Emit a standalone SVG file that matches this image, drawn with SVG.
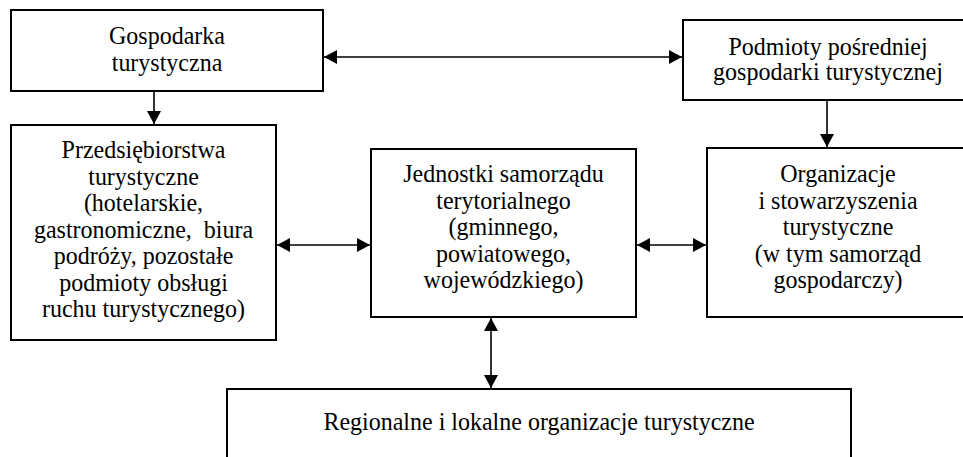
<svg xmlns="http://www.w3.org/2000/svg" width="963" height="457" viewBox="0 0 963 457">
<style>
.box{fill:#fff;stroke:#000;stroke-width:2}
.t{font-family:"Liberation Serif","Times New Roman",serif;font-size:24px;fill:#000;text-anchor:middle}
.c{stroke:#000;stroke-width:1.6;fill:none}
</style>
<defs>
<marker id="ah" markerUnits="userSpaceOnUse" markerWidth="15" markerHeight="15" refX="13" refY="7" orient="auto-start-reverse">
<path d="M0,0 L13,7 L0,14 z" fill="#000"/>
</marker>
</defs>
<rect width="963" height="457" fill="#fff"/>
<g id="connectors">
<line class="c" x1="324" y1="57" x2="682" y2="57" marker-start="url(#ah)" marker-end="url(#ah)"/>
<line class="c" x1="154" y1="91" x2="154" y2="124" marker-end="url(#ah)"/>
<line class="c" x1="827" y1="100" x2="827" y2="147" marker-end="url(#ah)"/>
<line class="c" x1="277" y1="245" x2="370" y2="245" marker-start="url(#ah)" marker-end="url(#ah)"/>
<line class="c" x1="637" y1="245" x2="706" y2="245" marker-start="url(#ah)" marker-end="url(#ah)"/>
<line class="c" x1="491" y1="318" x2="491" y2="388" marker-start="url(#ah)" marker-end="url(#ah)"/>
</g>
<g id="gospodarka">
<rect class="box" x="11" y="10" width="312" height="81"/>
<text class="t" transform="translate(167 44) scale(1 1.05)">Gospodarka</text>
<text class="t" transform="translate(167 71) scale(1 1.05)">turystyczna</text>
</g>
<g id="podmioty">
<rect class="box" x="683" y="20" width="292" height="80"/>
<text class="t" transform="translate(828 55) scale(1 1.05)">Podmioty pośredniej</text>
<text class="t" transform="translate(828 80) scale(1 1.05)">gospodarki turystycznej</text>
</g>
<g id="przedsiebiorstwa">
<rect class="box" x="11" y="125" width="265" height="215"/>
<text class="t" transform="translate(143.5 158) scale(1 1.05)">Przedsiębiorstwa</text>
<text class="t" transform="translate(143.5 184.5) scale(1 1.05)">turystyczne</text>
<text class="t" transform="translate(143.5 211) scale(1 1.05)">(hotelarskie,</text>
<text class="t" transform="translate(143.5 237.5) scale(1 1.05)" xml:space="preserve">gastronomiczne,  biura</text>
<text class="t" transform="translate(143.5 264) scale(1 1.05)">podróży, pozostałe</text>
<text class="t" transform="translate(143.5 290.5) scale(1 1.05)">podmioty obsługi</text>
<text class="t" transform="translate(143.5 317) scale(1 1.05)">ruchu turystycznego)</text>
</g>
<g id="jednostki">
<rect class="box" x="371" y="149" width="265" height="168"/>
<text class="t" transform="translate(503.5 182) scale(1 1.05)">Jednostki samorządu</text>
<text class="t" transform="translate(503.5 208.5) scale(1 1.05)">terytorialnego</text>
<text class="t" transform="translate(503.5 235) scale(1 1.05)">(gminnego,</text>
<text class="t" transform="translate(503.5 261.5) scale(1 1.05)">powiatowego,</text>
<text class="t" transform="translate(503.5 288) scale(1 1.05)">wojewódzkiego)</text>
</g>
<g id="organizacje">
<rect class="box" x="707" y="148" width="265" height="169"/>
<text class="t" transform="translate(838 182) scale(1 1.05)">Organizacje</text>
<text class="t" transform="translate(838 208.5) scale(1 1.05)">i stowarzyszenia</text>
<text class="t" transform="translate(838 235) scale(1 1.05)">turystyczne</text>
<text class="t" transform="translate(838 261.5) scale(1 1.05)">(w tym samorząd</text>
<text class="t" transform="translate(838 288) scale(1 1.05)">gospodarczy)</text>
</g>
<g id="regionalne">
<rect class="box" x="227" y="389" width="624" height="80"/>
<text class="t" transform="translate(539 430) scale(1 1.05)">Regionalne i lokalne organizacje turystyczne</text>
</g>
</svg>
